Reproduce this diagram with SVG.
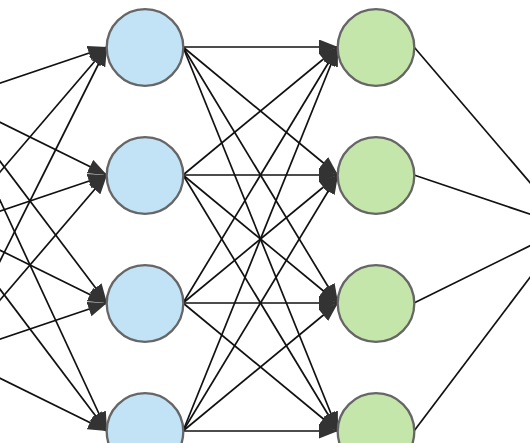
<svg xmlns="http://www.w3.org/2000/svg" width="530" height="443" viewBox="0 0 530 443">
<style>
.edge{stroke:#111;stroke-width:1.7;fill:none}
.arr{marker-end:url(#ah)}
.hid{fill:#c2e2f5;stroke:#666;stroke-width:2.3}
.out{fill:#c5e6ab;stroke:#666;stroke-width:2.3}
</style>
<defs>
<marker id="ah" markerUnits="userSpaceOnUse" markerWidth="22" markerHeight="16" refX="19" refY="7.5" orient="auto" viewBox="0 0 22 16">
<path d="M0,0 L19,7.5 L0,15 Z" fill="#333"/>
</marker>
</defs>
<rect width="530" height="443" fill="#fff"/>
<g id="connectors">
<g id="input-to-layer1">
<line class="edge arr" x1="-47" y1="99" x2="107" y2="47"/>
<line class="edge arr" x1="-47" y1="227" x2="107" y2="47"/>
<line class="edge arr" x1="-47" y1="355" x2="107" y2="47"/>
<line class="edge arr" x1="-47" y1="99" x2="107" y2="175"/>
<line class="edge arr" x1="-47" y1="227" x2="107" y2="175"/>
<line class="edge arr" x1="-47" y1="355" x2="107" y2="175"/>
<line class="edge arr" x1="-47" y1="99" x2="107" y2="303"/>
<line class="edge arr" x1="-47" y1="227" x2="107" y2="303"/>
<line class="edge arr" x1="-47" y1="355" x2="107" y2="303"/>
<line class="edge arr" x1="-47" y1="99" x2="107" y2="431"/>
<line class="edge arr" x1="-47" y1="227" x2="107" y2="431"/>
<line class="edge arr" x1="-47" y1="355" x2="107" y2="431"/>
</g>
<g id="layer1-to-layer2">
<line class="edge arr" x1="183" y1="47" x2="338" y2="47"/>
<line class="edge arr" x1="183" y1="175" x2="338" y2="47"/>
<line class="edge arr" x1="183" y1="303" x2="338" y2="47"/>
<line class="edge arr" x1="183" y1="431" x2="338" y2="47"/>
<line class="edge arr" x1="183" y1="47" x2="338" y2="175"/>
<line class="edge arr" x1="183" y1="175" x2="338" y2="175"/>
<line class="edge arr" x1="183" y1="303" x2="338" y2="175"/>
<line class="edge arr" x1="183" y1="431" x2="338" y2="175"/>
<line class="edge arr" x1="183" y1="47" x2="338" y2="303"/>
<line class="edge arr" x1="183" y1="175" x2="338" y2="303"/>
<line class="edge arr" x1="183" y1="303" x2="338" y2="303"/>
<line class="edge arr" x1="183" y1="431" x2="338" y2="303"/>
<line class="edge arr" x1="183" y1="47" x2="338" y2="431"/>
<line class="edge arr" x1="183" y1="175" x2="338" y2="431"/>
<line class="edge arr" x1="183" y1="303" x2="338" y2="431"/>
<line class="edge arr" x1="183" y1="431" x2="338" y2="431"/>
</g>
<g id="layer2-to-output">
<line class="edge" x1="414" y1="47" x2="568" y2="227"/>
<line class="edge" x1="414" y1="175" x2="568" y2="227"/>
<line class="edge" x1="414" y1="303" x2="568" y2="227"/>
<line class="edge" x1="414" y1="431" x2="568" y2="227"/>
</g>
</g>
<g id="h1"><circle class="hid" cx="145" cy="47.5" r="38.3"/></g>
<g id="h2"><circle class="hid" cx="145" cy="175.5" r="38.3"/></g>
<g id="h3"><circle class="hid" cx="145" cy="303.5" r="38.3"/></g>
<g id="h4"><circle class="hid" cx="145" cy="431.5" r="38.3"/></g>
<g id="g1"><circle class="out" cx="376" cy="47.5" r="38.3"/></g>
<g id="g2"><circle class="out" cx="376" cy="175.5" r="38.3"/></g>
<g id="g3"><circle class="out" cx="376" cy="303.5" r="38.3"/></g>
<g id="g4"><circle class="out" cx="376" cy="431.5" r="38.3"/></g>
</svg>
